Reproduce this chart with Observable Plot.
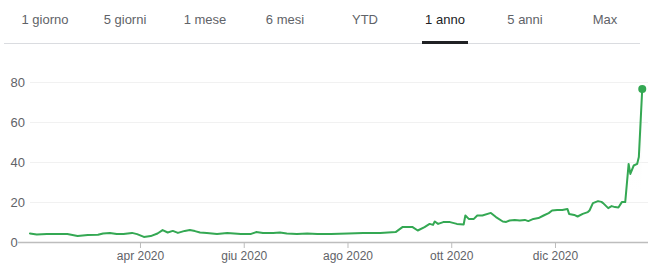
<!DOCTYPE html>
<html><head><meta charset="utf-8">
<script src="https://cdn.jsdelivr.net/npm/d3@7"></script>
<script src="https://cdn.jsdelivr.net/npm/@observablehq/plot@0.6"></script>
<style>
body{margin:0;background:#fff;font-family:Arial,"Liberation Sans",sans-serif;}
#tabs{position:relative;width:660px;height:50px;}
.tab{position:absolute;top:12px;transform:translateX(-50%);font-size:13px;line-height:15px;color:#5f6368;white-space:nowrap;}
.tab.sel{color:#202124;}
#sep{position:absolute;left:4px;width:636px;top:43px;height:1px;background:#dadce0;}
#ul{position:absolute;top:41px;height:3px;background:#202124;}
#chart svg{display:block;}
</style></head><body>
<div id="tabs"><div id="sep"></div></div>
<div id="chart"></div>
<script>
// ---- data ----
const tabLabels = ["1 giorno", "5 giorni", "1 mese", "6 mesi", "YTD", "1 anno", "5 anni", "Max"];
const selectedTab = "1 anno";

const dates = [
  "2020-01-27","2020-01-31","2020-02-06","2020-02-12","2020-02-18","2020-02-24","2020-03-01","2020-03-07",
  "2020-03-10","2020-03-14","2020-03-18","2020-03-22","2020-03-27","2020-03-30","2020-04-03","2020-04-07",
  "2020-04-11","2020-04-14","2020-04-17","2020-04-20","2020-04-23","2020-04-27","2020-04-30","2020-05-03",
  "2020-05-06","2020-05-10","2020-05-16","2020-05-22","2020-05-26","2020-05-30","2020-06-05","2020-06-08",
  "2020-06-12","2020-06-18","2020-06-22","2020-06-26","2020-07-02","2020-07-08","2020-07-14","2020-07-22",
  "2020-08-01","2020-08-10","2020-08-20","2020-08-29","2020-09-02","2020-09-08","2020-09-11","2020-09-15",
  "2020-09-18","2020-09-20","2020-09-21","2020-09-23","2020-09-26","2020-09-30","2020-10-04","2020-10-08",
  "2020-10-09","2020-10-11","2020-10-14","2020-10-16","2020-10-19","2020-10-24","2020-10-27","2020-10-31",
  "2020-11-02","2020-11-04","2020-11-07","2020-11-10","2020-11-13","2020-11-15","2020-11-18","2020-11-21",
  "2020-11-24","2020-11-27","2020-11-29","2020-12-02","2020-12-05","2020-12-08","2020-12-09","2020-12-12",
  "2020-12-14","2020-12-17","2020-12-20","2020-12-21","2020-12-23","2020-12-26","2020-12-28","2020-12-29",
  "2021-01-01","2021-01-03","2021-01-05","2021-01-07","2021-01-09","2021-01-11","2021-01-13","2021-01-14",
  "2021-01-16","2021-01-18","2021-01-19","2021-01-21"
];
const prices = [
  4.5, 4.0, 4.2, 4.3, 4.2, 3.3, 3.8, 3.9,
  4.5, 4.8, 4.2, 4.2, 4.8, 4.2, 2.8, 3.2,
  4.5, 6.2, 5.0, 5.8, 4.8, 5.8, 6.2, 5.7,
  5.0, 4.8, 4.3, 4.7, 4.5, 4.2, 4.3, 5.2,
  4.7, 4.8, 5.0, 4.5, 4.3, 4.5, 4.2, 4.2,
  4.5, 4.7, 4.8, 5.2, 7.7, 7.7, 6.0, 7.7,
  9.3, 8.8, 10.5, 9.3, 10.2, 10.2, 9.3, 9.0,
  13.5, 11.8, 11.8, 13.5, 13.5, 14.8, 12.7, 10.5,
  10.3, 11.0, 11.3, 11.0, 11.3, 10.7, 11.8, 12.2,
  13.5, 14.7, 16.0, 16.3, 16.3, 16.8, 14.3, 13.8,
  13.0, 14.3, 15.2, 16.0, 19.7, 20.7, 20.3, 19.7,
  17.2, 18.2, 17.7, 17.5, 20.2, 20.2, 39.3, 34.3,
  38.5, 39.3, 42.7, 76.8
];
const yTicks = [0, 20, 40, 60, 80];
const xTickDates = ["2020-04-01", "2020-06-01", "2020-08-01", "2020-10-01", "2020-12-01"];
const xTickLabels = ["apr 2020", "giu 2020", "ago 2020", "ott 2020", "dic 2020"];

// ---- tabs ----
const tabs = document.getElementById("tabs");
tabLabels.forEach((t, i) => {
  const el = document.createElement("div");
  el.className = "tab" + (t === selectedTab ? " sel" : "");
  el.style.left = (45 + 80 * i) + "px";
  el.textContent = t;
  tabs.appendChild(el);
  if (t === selectedTab) {
    const ul = document.createElement("div");
    ul.id = "ul";
    ul.style.left = (45 + 80 * i - 23) + "px";
    ul.style.width = "46px";
    tabs.appendChild(ul);
  }
});

// ---- chart ----
const data = dates.map((d, i) => ({date: new Date(d), price: prices[i]}));
const xStart = new Date("2020-01-20T06:30:00Z");
const xEnd = new Date("2021-01-24T16:20:00Z");
const gridStart = new Date("2020-01-27T08:00:00Z");
const labelOf = new Map(xTickDates.map((d, i) => [+new Date(d), xTickLabels[i]]));
const green = "#34a853";

const gradient = () => {
  const ns = "http://www.w3.org/2000/svg";
  const defs = document.createElementNS(ns, "defs");
  defs.innerHTML = `<linearGradient id="gfill" x1="0" y1="0" x2="0" y2="1">
    <stop offset="0" stop-color="#e9efea" stop-opacity="0.9"/>
    <stop offset="0.7" stop-color="#ffffff" stop-opacity="0"/></linearGradient>`;
  return defs;
};

const chart = Plot.plot({
  width: 660,
  height: 221,
  marginLeft: 18,
  marginRight: 12,
  marginTop: 32,
  marginBottom: 29,
  style: {fontFamily: "Arial, 'Liberation Sans', sans-serif", background: "#fff"},
  x: {type: "utc", domain: [xStart, xEnd]},
  y: {domain: [0, 80], axis: null},
  marks: [
    gradient,
    Plot.ruleY(yTicks.filter(d => d > 0), {x1: () => gridStart, x2: () => xEnd, stroke: "#f1f1f1"}),
    Plot.areaY(data, {x: "date", y: "price", fill: "url(#gfill)"}),
    Plot.ruleY([0], {stroke: "#bdbdbd", strokeWidth: 1.5}),
    Plot.axisX(xTickDates.map(d => new Date(d)), {
      tickFormat: d => labelOf.get(+d), tickSize: 6, tickPadding: 3,
      fontSize: 12, stroke: "#bdbdbd", fill: "#5f6368"
    }),
    Plot.text(yTicks, {y: d => d, text: d => String(d), frameAnchor: "left", textAnchor: "start", dx: -8, fontSize: 13, fill: "#5f6368"}),
    Plot.line(data, {x: "date", y: "price", stroke: green, strokeWidth: 2}),
    Plot.dot(data, {filter: (d, i) => i === data.length - 1, x: "date", y: "price", r: 4, fill: green})
  ]
});
document.getElementById("chart").appendChild(chart);
</script>
</body></html>
